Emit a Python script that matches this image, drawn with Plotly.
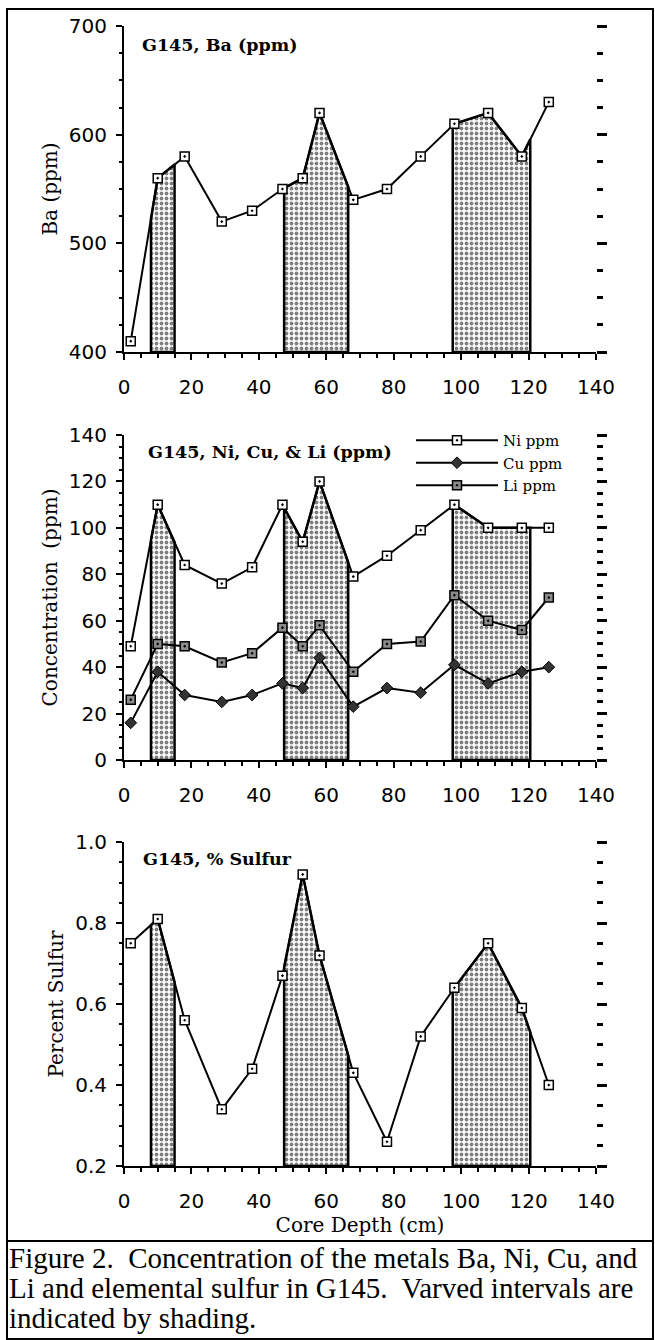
import numpy as np
import plotly.graph_objects as go

# ---------------- data ----------------
depth = [2, 10, 18, 29, 38, 47, 53, 58, 68, 78, 88, 98, 108, 118, 126]
ba = [410, 560, 580, 520, 530, 550, 560, 620, 540, 550, 580, 610, 620, 580, 630]
ni = [49, 110, 84, 76, 83, 110, 94, 120, 79, 88, 99, 110, 100, 100, 100]
cu = [16, 38, 28, 25, 28, 33, 31, 44, 23, 31, 29, 41, 33, 38, 40]
li = [26, 50, 49, 42, 46, 57, 49, 58, 38, 50, 51, 71, 60, 56, 70]
sulfur = [0.75, 0.81, 0.56, 0.34, 0.44, 0.67, 0.92, 0.72, 0.43, 0.26, 0.52, 0.64, 0.75, 0.59, 0.40]

varve_start = [8, 47.5, 97.5]
varve_end = [15, 66.5, 120.5]

panel_titles = ["G145, Ba (ppm)", "G145, Ni, Cu, & Li (ppm)", "G145, % Sulfur"]
y_titles = ["Ba (ppm)", "Concentration  (ppm)", "Percent Sulfur"]
x_title = "Core Depth (cm)"
caption_lines = [
    "Figure 2.  Concentration of the metals Ba, Ni, Cu, and",
    "Li and elemental sulfur in G145.  Varved intervals are",
    "indicated by shading.",
]

# ---------------- layout helpers ----------------
W, H = 655, 1340


def fx(p):
    return p / W


def fy(p):
    return 1 - p / H


xdom = [fx(124), fx(596)]
ydoms = [[fy(352), fy(26)], [fy(760), fy(435)], [fy(1166), fy(842)]]
yranges = [[400, 700], [0, 140], [0.2, 1.0]]
ydticks = [100, 20, 0.2]
yminor = [25, 5, 0.05]

SERIF = "DejaVu Serif"
SANS = "DejaVu Sans"

pattern = dict(shape=".", fgcolor="black", bgcolor="white", size=5, solidity=0.45)


def varve_polygon(x, y, a, b, base):
    inner = [(xi, yi) for xi, yi in zip(x, y) if a < xi < b]
    xs = [a, a] + [p[0] for p in inner] + [b, b, a]
    ys = [base, float(np.interp(a, x, y))] + [p[1] for p in inner] + [float(np.interp(b, x, y)), base, base]
    return xs, ys


fig = go.Figure()

shade_series = [ba, ni, sulfur]
for i, series in enumerate(shade_series):
    xa = "x" if i == 0 else f"x{i+1}"
    ya = "y" if i == 0 else f"y{i+1}"
    for a, b in zip(varve_start, varve_end):
        xs, ys = varve_polygon(depth, series, a, b, yranges[i][0])
        fig.add_trace(go.Scatter(
            x=xs, y=ys, mode="lines", fill="toself", fillcolor="white",
            fillpattern=pattern, line=dict(color="black", width=2.5),
            hoverinfo="skip", showlegend=False, xaxis=xa, yaxis=ya))

sq_white = dict(symbol="square-dot", size=9, color="white", line=dict(color="black", width=1.5))
sq_gray = dict(symbol="square-dot", size=9, color="#8a8a8a", line=dict(color="black", width=1.5))
dia = dict(symbol="diamond", size=9, color="#333333", line=dict(color="black", width=1))
ln = dict(color="black", width=2)

fig.add_trace(go.Scatter(x=depth, y=ba, mode="lines+markers", line=ln, marker=sq_white,
                         showlegend=False, xaxis="x", yaxis="y"))
fig.add_trace(go.Scatter(x=depth, y=ni, mode="lines+markers", line=ln, marker=sq_white,
                         name="Ni ppm", xaxis="x2", yaxis="y2"))
fig.add_trace(go.Scatter(x=depth, y=cu, mode="lines+markers", line=ln, marker=dia,
                         name="Cu ppm", xaxis="x2", yaxis="y2"))
fig.add_trace(go.Scatter(x=depth, y=li, mode="lines+markers", line=ln, marker=sq_gray,
                         name="Li ppm", xaxis="x2", yaxis="y2"))
fig.add_trace(go.Scatter(x=depth, y=sulfur, mode="lines+markers", line=ln, marker=sq_white,
                         showlegend=False, xaxis="x3", yaxis="y3"))

# empty traces to register right-hand tick axes
for k, xa in zip([4, 5, 6], ["x", "x2", "x3"]):
    fig.add_trace(go.Scatter(x=[], y=[], xaxis=xa, yaxis=f"y{k}", showlegend=False, hoverinfo="skip"))

layout = dict(
    width=W, height=H, margin=dict(l=0, r=0, t=0, b=0),
    paper_bgcolor="white", plot_bgcolor="rgba(0,0,0,0)",
    showlegend=True,
    legend=dict(x=fx(411), y=fy(424), xanchor="left", yanchor="top",
                bgcolor="rgba(0,0,0,0)", borderwidth=0, itemwidth=82,
                tracegroupgap=0, font=dict(family=SERIF, size=15, color="black")),
)

for i in range(3):
    xk = "xaxis" if i == 0 else f"xaxis{i+1}"
    yk = "yaxis" if i == 0 else f"yaxis{i+1}"
    ya_ref = "y" if i == 0 else f"y{i+1}"
    xa_ref = "x" if i == 0 else f"x{i+1}"
    xax = dict(domain=xdom, range=[0, 140], anchor=ya_ref, showline=True, linecolor="black",
               linewidth=2, ticks="outside", ticklen=6, tickwidth=2, tickcolor="black",
               tick0=0, dtick=20,
               minor=dict(dtick=5, ticks="outside", ticklen=4, tickwidth=1.5, tickcolor="black", showgrid=False),
               showgrid=False, zeroline=False, automargin=False,
               tickfont=dict(family=SANS, size=20, color="black"), ticklabelstandoff=10)
    if i == 2:
        xax["title"] = dict(text=x_title, font=dict(family=SERIF, size=20, color="black"), standoff=6)
    layout[xk] = xax
    yax = dict(domain=ydoms[i], range=yranges[i], anchor=xa_ref, showline=True, linecolor="black",
               linewidth=2, ticks="outside", ticklen=6, tickwidth=2, tickcolor="black",
               tick0=yranges[i][0], dtick=ydticks[i],
               minor=dict(dtick=yminor[i], ticks="outside", ticklen=3, tickwidth=1.5, tickcolor="black", showgrid=False),
               showgrid=False, zeroline=False, automargin=False,
               tickfont=dict(family=SANS, size=20, color="black"), ticklabelstandoff=5,
               title=dict(text=y_titles[i], font=dict(family=SERIF, size=20, color="black"), standoff=6))
    if i == 2:
        yax["tickformat"] = ".1f"
    layout[yk] = yax
    layout[f"yaxis{i+4}"] = dict(overlaying=ya_ref, side="right", anchor=xa_ref, range=yranges[i],
                                 showline=False, ticks="outside", ticklen=10, tickwidth=2.5,
                                 tickcolor="black", tick0=yranges[i][0], dtick=ydticks[i],
                                 minor=dict(dtick=yminor[i], ticks="outside", ticklen=6, tickwidth=2.5,
                                            tickcolor="black", showgrid=False),
                                 showticklabels=False, showgrid=False, zeroline=False, automargin=False)

fig.update_layout(**layout)

# panel titles
title_pos = [(140, 45), (146, 452), (141, 859)]
for t, (px, py) in zip(panel_titles, title_pos):
    fig.add_annotation(text=f"<b>{t}</b>", x=fx(px), y=fy(py), xref="paper", yref="paper",
                       xanchor="left", yanchor="middle", showarrow=False,
                       font=dict(family=SERIF, size=17.5, color="black"))

# caption
cap_y = [1258, 1288, 1318]
for t, py in zip(caption_lines, cap_y):
    fig.add_annotation(text=t, x=fx(7), y=fy(py), xref="paper", yref="paper",
                       xanchor="left", yanchor="middle", showarrow=False,
                       font=dict(family="Liberation Serif", size=29, color="black"))

# frame
fig.add_shape(type="rect", xref="paper", yref="paper", x0=fx(7), x1=fx(653), y0=fy(1339), y1=fy(9),
              line=dict(color="black", width=2))
fig.add_shape(type="line", xref="paper", yref="paper", x0=fx(7), x1=fx(653), y0=fy(1241), y1=fy(1241),
              line=dict(color="black", width=2))

fig.write_html("out.html", config={"displayModeBar": False},
               post_script="document.body.style.margin='0px';document.body.style.overflow='hidden';")
